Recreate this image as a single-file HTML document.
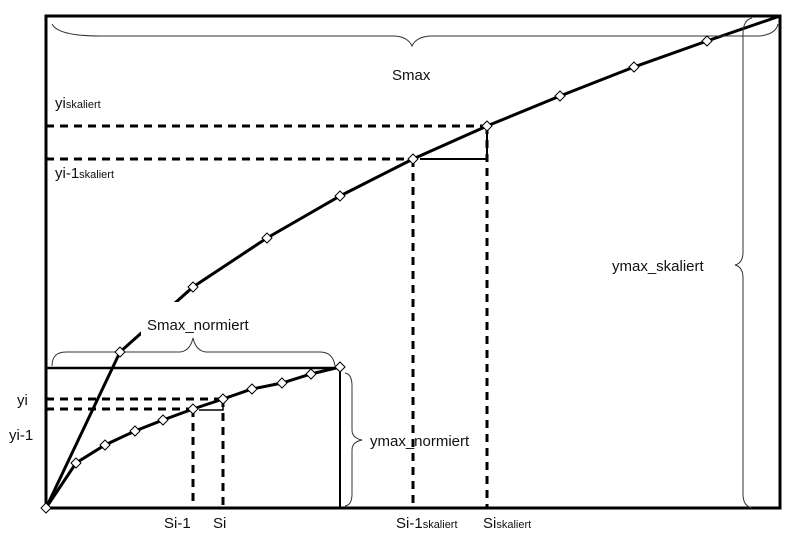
<!DOCTYPE html>
<html><head><style>body{margin:0;background:#fff}svg{display:block}text{font-family:"Liberation Sans",sans-serif;font-size:15px;fill:#111}</style></head><body>
<svg width="800" height="543" viewBox="0 0 800 543">
<g fill="none" stroke="#000">
<rect x="46" y="16" width="734" height="492" stroke-width="3"/>
<polyline stroke-width="3" points="46,508 120,352 193,287 267,238 340,196 413,159 487,126 560,96 634,67 707,41 780,16"/>
<polyline stroke-width="3" points="46,508 76,463 105,445 135,431 163,420 193,409 223,399 252,389 282,383 311,374 340,367"/>
<line x1="46" y1="368" x2="340" y2="368" stroke-width="2.5"/>
<line x1="340" y1="368" x2="340" y2="508" stroke-width="2"/>
<g stroke-width="3" stroke-dasharray="8,6">
<line x1="46" y1="126" x2="487" y2="126"/>
<line x1="46" y1="159" x2="413" y2="159"/>
<line x1="413" y1="159" x2="413" y2="508"/>
<line x1="487" y1="126" x2="487" y2="508"/>
<line x1="46" y1="399" x2="223" y2="399"/>
<line x1="46" y1="409" x2="193" y2="409"/>
<line x1="193" y1="409" x2="193" y2="508"/>
<line x1="223" y1="399" x2="223" y2="508"/>
</g>
<polyline stroke-width="2" points="420,159 487,159 487,126"/>
<polyline stroke-width="1.5" points="199,410 223,410 223,399"/>
</g>
<rect x="141" y="302" width="140" height="33" fill="#fff"/>
<g fill="none" stroke="#333" stroke-width="1">
<path d="M52,24 Q58,36 100,36 L395,36 Q408,37 412,46 Q416,37 430,36 L760,36 Q776,34 778,24"/>
<path d="M52,366 Q52,352 66,352 L180,352 Q190,351 193,338 Q196,351 206,352 L320,352 Q333,352 335,366"/>
<path d="M752,18 Q743,20 743,34 L743,252 Q743,263 735,265 Q743,267 743,278 L743,494 Q743,506 752,508"/>
<path d="M345,373 Q352,374 352,386 L352,430 Q352,438 362,440 Q352,442 352,450 L352,494 Q352,505 345,506"/>
</g>
<g fill="#fff" stroke="#000" stroke-width="1">
<path d="M46,503 l5,5 -5,5 -5,-5z"/>
<path d="M120,347 l5,5 -5,5 -5,-5z M193,282 l5,5 -5,5 -5,-5z M267,233 l5,5 -5,5 -5,-5z M340,191 l5,5 -5,5 -5,-5z M413,154 l5,5 -5,5 -5,-5z M487,121 l5,5 -5,5 -5,-5z M560,91 l5,5 -5,5 -5,-5z M634,62 l5,5 -5,5 -5,-5z M707,36 l5,5 -5,5 -5,-5z"/>
<path d="M76,458 l5,5 -5,5 -5,-5z M105,440 l5,5 -5,5 -5,-5z M135,426 l5,5 -5,5 -5,-5z M163,415 l5,5 -5,5 -5,-5z M193,404 l5,5 -5,5 -5,-5z M223,394 l5,5 -5,5 -5,-5z M252,384 l5,5 -5,5 -5,-5z M282,378 l5,5 -5,5 -5,-5z M311,369 l5,5 -5,5 -5,-5z M340,362 l5,5 -5,5 -5,-5z"/>
</g>
<text x="392" y="80">Smax</text>
<text x="55" y="108">yi<tspan font-size="11">skaliert</tspan></text>
<text x="55" y="178">yi-1<tspan font-size="11">skaliert</tspan></text>
<text x="612" y="271">ymax_skaliert</text>
<text x="147" y="330">Smax_normiert</text>
<text x="370" y="446">ymax_normiert</text>
<text x="17" y="405">yi</text>
<text x="9" y="440">yi-1</text>
<text x="164" y="528">Si-1</text>
<text x="213" y="528">Si</text>
<text x="396" y="528">Si-1<tspan font-size="11">skaliert</tspan></text>
<text x="483" y="528">Si<tspan font-size="11">skaliert</tspan></text>
</svg>
</body></html>
